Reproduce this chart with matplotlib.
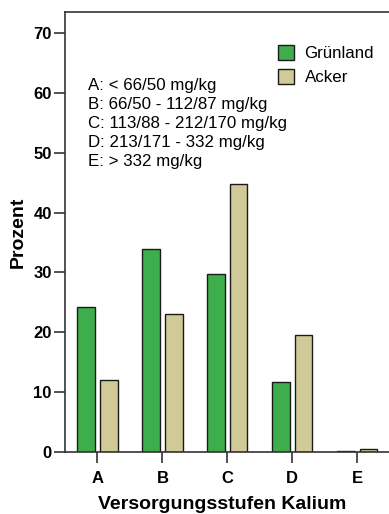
import matplotlib.pyplot as plt
import numpy as np

plt.rcParams['font.family'] = ['Liberation Sans', 'DejaVu Sans']

categories = ['A', 'B', 'C', 'D', 'E']
gruenland = [24.2, 33.9, 29.7, 11.7, 0.2]
acker = [12.0, 23.0, 44.7, 19.6, 0.5]
ranges = ['A: < 66/50 mg/kg',
          'B: 66/50 - 112/87 mg/kg',
          'C: 113/88 - 212/170 mg/kg',
          'D: 213/171 - 332 mg/kg',
          'E: > 332 mg/kg']

fig = plt.figure(figsize=(3.89, 5.14), dpi=100)
ax = fig.add_axes([65 / 389, 1 - 452 / 514, 1 - 65 / 389 + 0.01, 440 / 514])

x = np.arange(len(categories))
w = 0.27
ax.bar(x - 0.175, gruenland, w, color='#3DAE4B', edgecolor='#1a1a1a', linewidth=1, label='Grünland')
ax.bar(x + 0.175, acker, w, color='#D0CA98', edgecolor='#1a1a1a', linewidth=1, label='Acker')

ax.set_xlim(-0.5, 4.55)
ax.set_ylim(0, 73.5)
ax.set_yticks([0, 10, 20, 30, 40, 50, 60, 70])
ax.set_xticks(x)
ax.set_xticklabels(categories)
for lab in ax.get_xticklabels() + ax.get_yticklabels():
    lab.set_fontweight('bold')
    lab.set_fontsize(12)
ax.tick_params(direction='out', length=8, width=1.2, color='#333333')
ax.tick_params(axis='y', pad=1.5)
ax.tick_params(axis='x', pad=6)
ax.spines['right'].set_visible(False)
for s in ['left', 'top', 'bottom']:
    ax.spines[s].set_linewidth(1.2)
    ax.spines[s].set_color('#333333')

ax.set_ylabel('Prozent', fontsize=14, fontweight='bold', labelpad=5)
ax.set_xlabel('Versorgungsstufen Kalium', fontsize=14, fontweight='bold', labelpad=3)
ax.xaxis.set_label_coords(0.479, -0.1)

ax.text(0.07, 0.85, '\n'.join(ranges), transform=ax.transAxes, fontsize=12.2,
        va='top', ha='left', linespacing=1.33)

ax.legend(loc='upper left', bbox_to_anchor=(0.63, 0.94), frameon=False, fontsize=12.2,
          handlelength=0.95, handleheight=0.95, handletextpad=0.6, labelspacing=0.45,
          borderaxespad=0)

fig.savefig('out.png', dpi=100)
